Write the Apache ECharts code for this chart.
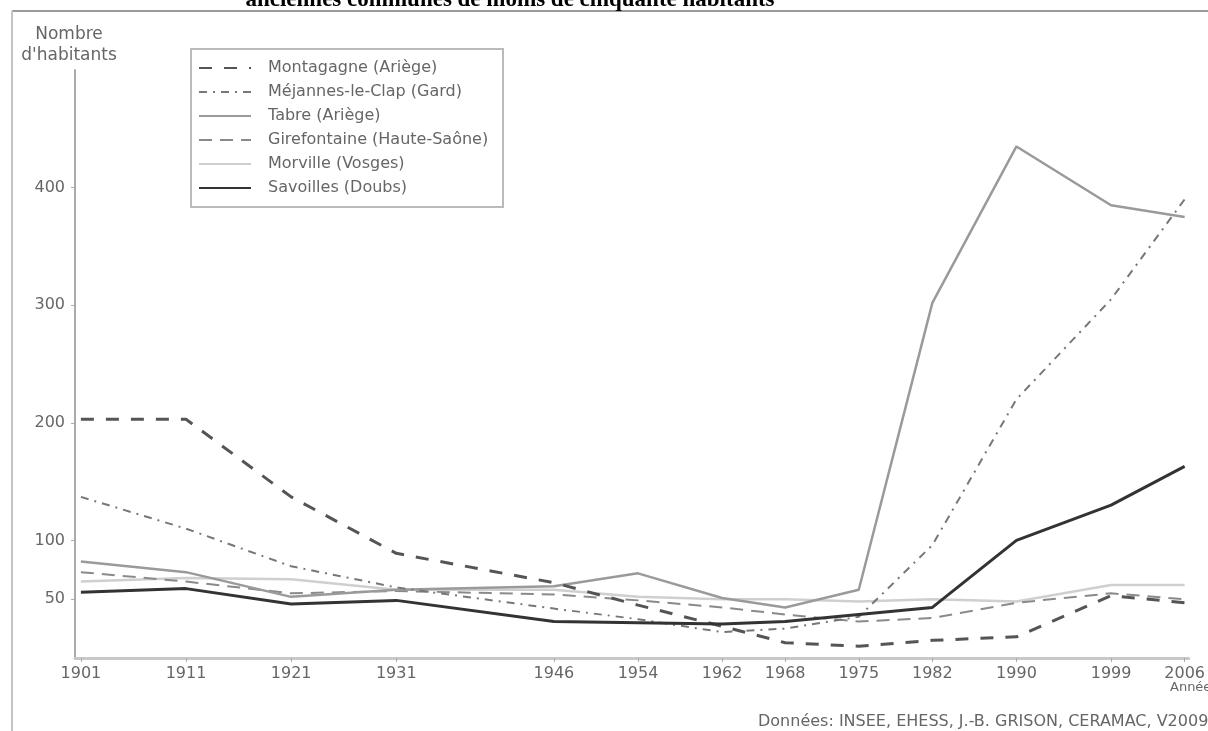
<!DOCTYPE html>
<html>
<head>
<meta charset="utf-8">
<script src="https://cdn.jsdelivr.net/npm/echarts@6/dist/echarts.min.js"></script>
<style>
html,body{margin:0;padding:0;background:#fff;}
#chart{width:1208px;height:731px;}
</style>
</head>
<body>
<div id="chart"></div>
<script>
const years = [1901,1911,1921,1931,1946,1954,1962,1968,1975,1982,1990,1999,2006];
const yTicks = [50,100,200,300,400];
const names = ['Montagagne (Ariège)','Méjannes-le-Clap (Gard)','Tabre (Ariège)','Girefontaine (Haute-Saône)','Morville (Vosges)','Savoilles (Doubs)'];
const montagagne   = [203,203,137,89,64,45,27,13,10,15,18,53,47];
const mejannes     = [137,110,78,60,42,33,22,25,35,96,220,305,390];
const tabre        = [82,73,52,58,61,72,51,43,58,302,435,385,375];
const girefontaine = [73,65,55,57,54,49,43,37,31,34,47,55,50];
const morville     = [65,68,67,58,58,52,50,50,48,50,48,62,62];
const savoilles    = [56,59,46,49,31,30,29,31,37,43,100,130,163];
const titleText = 'anciennes communes de moins de cinquante habitants';
const yTitle = "Nombre\nd'habitants";
const xTitle = 'Année';
const sourceText = 'Données: INSEE, EHESS, J.-B. GRISON, CERAMAC, V2009';

const pair = arr => years.map((y,i)=>[y,arr[i]]);
const font = 'DejaVu Sans';

const chart = echarts.init(document.getElementById('chart'));
const mk = (name, data, color, width, type, z) => ({
  name, type:'line', data: pair(data), symbol:'none', z,
  lineStyle:{color, width, type}, itemStyle:{color}
});
chart.setOption({
  animation:false,
  backgroundColor:'#fff',
  grid:{left:75, right:8, top:70, bottom:73},
  xAxis:{
    type:'value', min:1900.44, max:2006.38,
    axisLine:{show:true, lineStyle:{color:'#c8c8c8', width:3}},
    axisTick:{show:true, customValues:years, length:4, lineStyle:{color:'#aaa', width:1}},
    axisLabel:{customValues:years, color:'#666', fontSize:16, fontFamily:font, margin:8, formatter: v => String(v)},
    splitLine:{show:false}
  },
  yAxis:{
    type:'value', min:0, max:500,
    axisLine:{show:true, lineStyle:{color:'#aaa', width:2}},
    axisTick:{show:true, customValues:yTicks, length:4, lineStyle:{color:'#aaa'}},
    axisLabel:{customValues:yTicks, color:'#666', fontSize:16, fontFamily:font, margin:10, formatter: v => String(v)},
    splitLine:{show:false}
  },
  legend:{
    orient:'vertical', left:198, top:60, padding:0,
    itemWidth:52, itemHeight:14, itemGap:8,
    data:names,
    itemStyle:{opacity:0},
    textStyle:{color:'#666', fontSize:16, fontFamily:font, padding:[0,0,0,12]}
  },
  graphic:[
    {type:'line', shape:{x1:12,y1:11,x2:1208,y2:11}, style:{stroke:'#9a9a9a', lineWidth:2}, silent:true},
    {type:'line', shape:{x1:12,y1:11,x2:12,y2:731}, style:{stroke:'#c4c4c4', lineWidth:2}, silent:true},
    {type:'rect', shape:{x:191,y:49,width:312,height:158}, style:{stroke:'#bbb', lineWidth:2, fill:null}, silent:true},
    {type:'text', x:510, y:12, style:{text:titleText, font:'bold 23px "Liberation Serif"', fill:'#000', textAlign:'center', textVerticalAlign:'bottom'}, silent:true},
    {type:'text', x:69, y:24, style:{text:yTitle, font:'17px "DejaVu Sans"', fill:'#666', textAlign:'center', lineHeight:21}, silent:true},
    {type:'text', x:1170, y:681, style:{text:xTitle, font:'13px "DejaVu Sans"', fill:'#666'}, silent:true},
    {type:'text', x:758, y:714, style:{text:sourceText, font:'16px "DejaVu Sans"', fill:'#666'}, silent:true}
  ],
  series:[
    mk(names[4], morville, '#cfcfcf', 2.5, 'solid', 2),
    mk(names[3], girefontaine, '#8a8a8a', 2, [13,8], 3),
    mk(names[2], tabre, '#9a9a9a', 2.5, 'solid', 4),
    mk(names[1], mejannes, '#777', 2, [8,6,2,6], 5),
    mk(names[0], montagagne, '#555', 3, [13,12], 6),
    mk(names[5], savoilles, '#333', 3, 'solid', 7)
  ]
});
</script>
</body>
</html>
